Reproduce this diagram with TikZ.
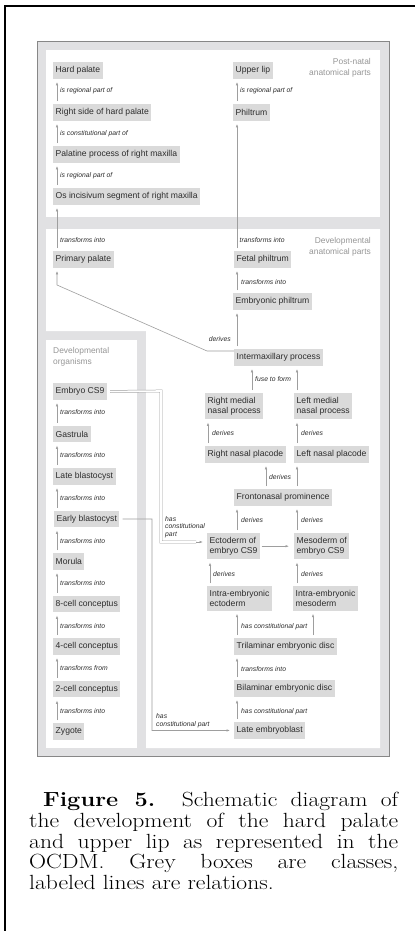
\documentclass[tikz,border=0pt]{standalone}
\usepackage{graphicx}
\usepackage{fontspec}
\newfontfamily\sans{Liberation Sans}
\usetikzlibrary{arrows.meta,calc}

\definecolor{band}{RGB}{225,225,227}
\definecolor{rim}{RGB}{135,135,135}
\definecolor{boxfill}{RGB}{218,218,218}
\definecolor{ink}{RGB}{45,45,45}
\definecolor{wire}{RGB}{158,158,158}
\definecolor{headgray}{RGB}{150,150,150}

% one justified caption line, widened to the given final width
\newcommand{\capline}[2]{\scalebox{1.15}[1]{\makebox[\dimexpr #1pt*100/115\relax][s]{#2}}}

\tikzset{
  cls/.style={fill=boxfill, text=ink, font=\sans\fontsize{8.6}{10}\selectfont,
    inner xsep=2.5pt, inner ysep=4pt, minimum height=16.5pt,
    anchor=north west, align=left},
  lab/.style={text=ink, font=\sans\itshape\fontsize{6.8}{7.6}\selectfont,
    inner sep=0pt, anchor=west, align=left},
  hdr/.style={text=headgray, font=\sans\fontsize{8.4}{11}\selectfont, inner sep=0pt},
  rel/.style={draw=wire, line width=0.6pt, -{Latex[length=3.4pt,width=2.4pt]}},
  up/.style={rel, shorten <=3pt, shorten >=3pt},
  dbl/.style={draw=wire, line width=0.5pt, double=white, double distance=1.6pt},
  captionline/.style={anchor=base west, inner sep=0pt, font=\fontsize{20.5}{21}\selectfont}
}

\begin{document}
\begin{tikzpicture}[x=1pt,y=-1pt]
\useasboundingbox (0,0) rectangle (415,931);

% page edge
\draw[line width=2pt] (5,931) -- (5,6) -- (415,6);

% panels
\filldraw[fill=band, draw=rim, line width=0.7pt] (37,41) rectangle (389,756);
\fill[white] (46,50) rectangle (380,217);
\fill[white] (46,229) -- (380,229) -- (380,748) -- (146,748) -- (146,331) -- (46,331) -- cycle;
\fill[white] (46,340) rectangle (137,748);

% panel headings
\node[hdr, anchor=east, align=right] (h1) at (371,67.5) {Post-natal\\anatomical parts};
\node[hdr, anchor=east, align=right] (h2) at (371,246.5) {Developmental\\anatomical parts};
\node[hdr, anchor=west, align=left] (h3) at (53,357) {Developmental\\organisms};

% post-natal anatomical parts
\node[cls] (hp)   at (53,62)  {Hard palate};
\node[cls] (rshp) at (53,104) {Right side of hard palate};
\node[cls] (ppm)  at (53,146) {Palatine process of right maxilla};
\node[cls] (osi)  at (53,188) {Os incisivum segment of right maxilla};
\node[cls] (ul)   at (233,62) {Upper lip};
\node[cls] (ph)   at (233,104) {Philtrum};

% developmental anatomical parts
\node[cls] (pp)   at (53,251)  {Primary palate};
\node[cls] (fp)   at (234,251) {Fetal philtrum};
\node[cls] (ep)   at (233,293) {Embryonic philtrum};
\node[cls] (imp)  at (234,349) {Intermaxillary process};
\node[cls] (rmnp) at (205,393) {Right medial\\nasal process};
\node[cls] (lmnp) at (294,393) {Left medial\\nasal process};
\node[cls] (rnp)  at (205,446) {Right nasal placode};
\node[cls] (lnp)  at (294,446) {Left nasal placode};
\node[cls] (fnp)  at (234,489) {Frontonasal prominence};
\node[cls] (ecto) at (207,533) {Ectoderm of\\embryo CS9};
\node[cls] (meso) at (294,533) {Mesoderm of\\embryo CS9};
\node[cls] (iee)  at (207,586) {Intra-embryonic\\ectoderm};
\node[cls] (iem)  at (293,586) {Intra-embryonic\\mesoderm};
\node[cls] (tri)  at (234,638) {Trilaminar embryonic disc};
\node[cls] (bi)   at (234,680) {Bilaminar embryonic disc};
\node[cls] (le)   at (234,722) {Late embryoblast};

% developmental organisms
\node[cls] (cs9)  at (53,383) {Embryo CS9};
\node[cls] (gas)  at (53,425.5) {Gastrula};
\node[cls] (lb)   at (53,468) {Late blastocyst};
\node[cls] (eb)   at (54,510.5) {Early blastocyst};
\node[cls] (mor)  at (53,553) {Morula};
\node[cls] (c8)   at (53,595.5) {8-cell conceptus};
\node[cls] (c4)   at (53,638) {4-cell conceptus};
\node[cls] (c2)   at (53,680.5) {2-cell conceptus};
\node[cls] (zy)   at (53,723) {Zygote};

% arrow columns
\coordinate (cL) at (57,0);
\coordinate (cR) at (237,0);
\coordinate (cM) at (297,0);
\coordinate (cF) at (252,0);
\coordinate (cP) at (266,0);
\coordinate (cE) at (208,0);
\coordinate (cI) at (210,0);
\coordinate (cT) at (313,0);

% left column of the upper panels
\draw[up] (cL |- rshp.north) -- (cL |- hp.south);
\draw[up] (cL |- ppm.north) -- (cL |- rshp.south);
\draw[up] (cL |- osi.north) -- (cL |- ppm.south);
\draw[up] (cL |- pp.north) -- (cL |- osi.south);
\node[lab] (l1) at (60,91)  {is regional part of};
\node[lab] (l2) at (60,134) {is constitutional part of};
\node[lab] (l3) at (60,176) {is regional part of};
\node[lab] (l4) at (60,240) {transforms into};

% philtrum chain
\draw[up] (cR |- ph.north) -- (cR |- ul.south);
\draw[up] (cR |- fp.north) -- (cR |- ph.south);
\draw[up] (cR |- ep.north) -- (cR |- fp.south);
\draw[up] (cR |- imp.north) -- (cR |- ep.south);
\node[lab] (l5) at (240,91)  {is regional part of};
\node[lab] (l6) at (239.5,240) {transforms into};
\node[lab] (l7) at (241,282) {transforms into};

% intermaxillary process to primary palate
\coordinate (dvA) at (207,351);
\coordinate (dvB) at (57,285);
\draw[rel] ([yshift=-2pt]imp.north west) -- (dvA) -- (dvB) -- ([xshift=4pt,yshift=-3pt]pp.south west);
\node[lab, anchor=east] (l8) at (231,339) {derives};

% nasal processes
\draw[up] (cF |- rmnp.north) -- (cF |- imp.south);
\draw[up] (cM |- lmnp.north) -- (cM |- imp.south);
\node[lab] (l9) at (255,379) {fuse to form};
\draw[up] (cE |- rnp.north) -- (cE |- rmnp.south);
\draw[up] (cM |- lnp.north) -- (cM |- lmnp.south);
\node[lab] (l10) at (212,433) {derives};
\node[lab] (l11) at (301,433) {derives};
\draw[up] (cP |- fnp.north) -- (cP |- rnp.south);
\draw[up] (cM |- fnp.north) -- (cM |- lnp.south);
\node[lab] (l12) at (269,477) {derives};

% germ layers
\draw[up] (cR |- ecto.north) -- (cR |- fnp.south);
\draw[up] (cM |- meso.north) -- (cM |- fnp.south);
\node[lab] (l13) at (241,520) {derives};
\node[lab] (l14) at (301,520) {derives};
\draw[rel, shorten <=1.5pt, shorten >=5pt] (ecto.east) -- (meso.west |- ecto.east);
\draw[up] (cI |- iee.north) -- (cI |- ecto.south);
\draw[up] (cM |- iem.north) -- (cM |- meso.south);
\node[lab] (l15) at (213,574) {derives};
\node[lab] (l16) at (301,574) {derives};
\draw[up] (cR |- tri.north) -- (cR |- iee.south);
\draw[up] (cT |- tri.north) -- (cT |- iem.south);
\node[lab] (l17) at (241,627) {has constitutional part};
\draw[up] (cR |- bi.north) -- (cR |- tri.south);
\node[lab] (l18) at (241,669) {transforms into};
\draw[up] (cR |- le.north) -- (cR |- bi.south);
\node[lab] (l19) at (241,712) {has constitutional part};

% developmental organisms chain
\draw[up] (cL |- gas.north) -- (cL |- cs9.south);
\draw[up] (cL |- lb.north) -- (cL |- gas.south);
\draw[up] (cL |- eb.north) -- (cL |- lb.south);
\draw[up] (cL |- mor.north) -- (cL |- eb.south);
\draw[up] (cL |- c8.north) -- (cL |- mor.south);
\draw[up] (cL |- c4.north) -- (cL |- c8.south);
\draw[up] (cL |- c2.north) -- (cL |- c4.south);
\draw[up] (cL |- zy.north) -- (cL |- c2.south);
\node[lab] (o1) at (60,412) {transforms into};
\node[lab] (o2) at (60,455) {transforms into};
\node[lab] (o3) at (60,498) {transforms into};
\node[lab] (o4) at (60,541) {transforms into};
\node[lab] (o5) at (60,583) {transforms into};
\node[lab] (o6) at (60,626) {transforms into};
\node[lab] (o7) at (60,668) {transforms from};
\node[lab] (o8) at (60,711) {transforms into};

% embryo CS9 has constitutional part ectoderm
\coordinate (dA) at (161,391);
\coordinate (dB) at (161,542);
\coordinate (dC) at (196,542);
\draw[dbl] ([xshift=3pt]cs9.east) -- (dA) -- (dB) -- (dC);
\draw[rel, shorten >=4pt] (dC) -- (ecto.west |- dC);
\node[lab] (l20) at (165,527) {has\\constitutional\\part};

% early blastocyst has constitutional part late embryoblast
\coordinate (eT) at (152,730.5);
\draw[rel, shorten <=3pt, shorten >=4pt] (eb.east) -| (eT) -- (le.west);
\node[lab] (l21) at (156,720.5) {has\\constitutional part};

% caption
\node[captionline] (k1) at (43,806) {\capline{355}{\textbf{Figure 5.}\ \ Schematic diagram of}};
\node[captionline] (k2) at (29,827) {\capline{369}{the development of the hard palate}};
\node[captionline] (k3) at (29,848) {\capline{369}{and upper lip as represented in the}};
\node[captionline] (k4) at (29,868) {\capline{369}{OCDM. Grey boxes are classes,}};
\node[captionline] (k5) at (29,889) {\scalebox{1.15}[1]{labeled lines are relations.}};
\end{tikzpicture}
\end{document}
